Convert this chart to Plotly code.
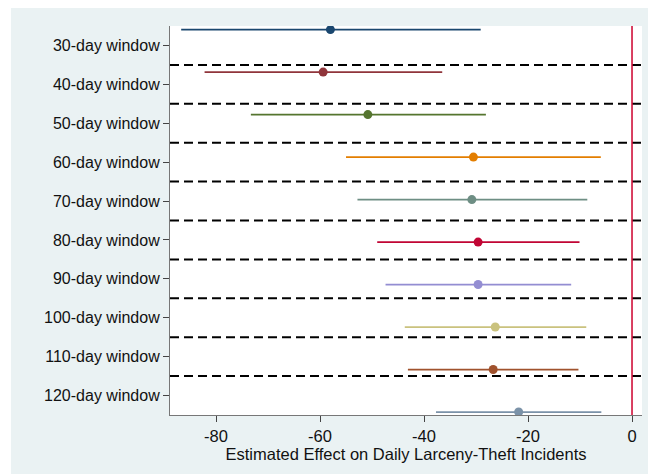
import plotly.graph_objects as go

windows = ["30-day window", "40-day window", "50-day window", "60-day window",
           "70-day window", "80-day window", "90-day window", "100-day window",
           "110-day window", "120-day window"]
estimates = [-58.0, -59.4, -50.8, -30.5, -30.8, -29.6, -29.6, -26.3, -26.7, -21.8]
ci_low = [-86.7, -82.2, -73.3, -55.0, -52.8, -49.0, -47.4, -43.7, -43.1, -37.7]
ci_high = [-29.1, -36.5, -28.1, -6.0, -8.6, -10.1, -11.7, -8.8, -10.3, -5.9]
colors = ["#1a476f", "#90353b", "#55752f", "#e37e00", "#6e8e84",
          "#c10534", "#938dd2", "#cac27e", "#a0522d", "#7b92a8"]
x_ticks = [-80, -60, -40, -20, 0]
x_ticklabels = ["-80", "-60", "-40", "-20", "0"]
x_title = "Estimated Effect on Daily Larceny-Theft Incidents"

FONT = "Liberation Sans, Arial, Helvetica, sans-serif"

fig = go.Figure()
for i, (name, est, lo, hi, c) in enumerate(zip(windows, estimates, ci_low, ci_high, colors)):
    fig.add_trace(go.Scatter(
        x=[est], y=[i], yaxis="y2", mode="markers",
        marker=dict(color=c, size=9),
        error_x=dict(type="data", symmetric=False, array=[hi - est],
                     arrayminus=[est - lo], width=0, thickness=1.8, color=c),
        showlegend=False, hoverinfo="x+name", name=name,
    ))

shapes = []
# outer light panel
shapes.append(dict(type="rect", xref="paper", yref="paper",
                   x0=-0.337, x1=1.1, y0=-0.3, y1=1.05,
                   fillcolor="#eaf2f3", line=dict(width=0), layer="below"))
# white plot region
shapes.append(dict(type="rect", xref="paper", yref="paper",
                   x0=0, x1=1, y0=0, y1=1,
                   fillcolor="white", line=dict(width=0), layer="below"))
# dashed separators
for k in range(len(windows) - 1):
    shapes.append(dict(type="line", xref="paper", yref="y",
                       x0=0, x1=1, y0=k + 0.5, y1=k + 0.5,
                       line=dict(color="black", width=2, dash="9px,5px"),
                       layer="below"))
# zero line
shapes.append(dict(type="line", xref="x", yref="paper", x0=0, x1=0, y0=0, y1=1,
                   line=dict(color="#d0103a", width=1.6), layer="above"))

fig.update_layout(
    width=648, height=466,
    margin=dict(l=162, r=14, t=18, b=59, autoexpand=False),
    paper_bgcolor="white", plot_bgcolor="white",
    font=dict(family=FONT, size=16, color="#111"),
    shapes=shapes,
    xaxis=dict(range=[-88.85, 1.92], tickvals=x_ticks, ticktext=x_ticklabels,
               ticks="outside", ticklen=6, tickcolor="#444", tickwidth=1,
               showline=True, linecolor="#777", linewidth=1.2,
               showgrid=False, zeroline=False, automargin=False,
               title=dict(text=x_title, standoff=1, font=dict(size=16.5)),
               tickfont=dict(size=16.5)),
    yaxis=dict(range=[9.5, -0.5], tickvals=list(range(len(windows))),
               ticktext=windows, ticks="outside", ticklen=6, tickcolor="#444",
               showline=True, linecolor="#777", linewidth=1.2, automargin=False,
               showgrid=False, zeroline=False, tickfont=dict(size=16)),
    yaxis2=dict(range=[9.07, -0.085], overlaying="y", visible=False,
                showgrid=False, zeroline=False),
)

fig.write_html("out.html")
